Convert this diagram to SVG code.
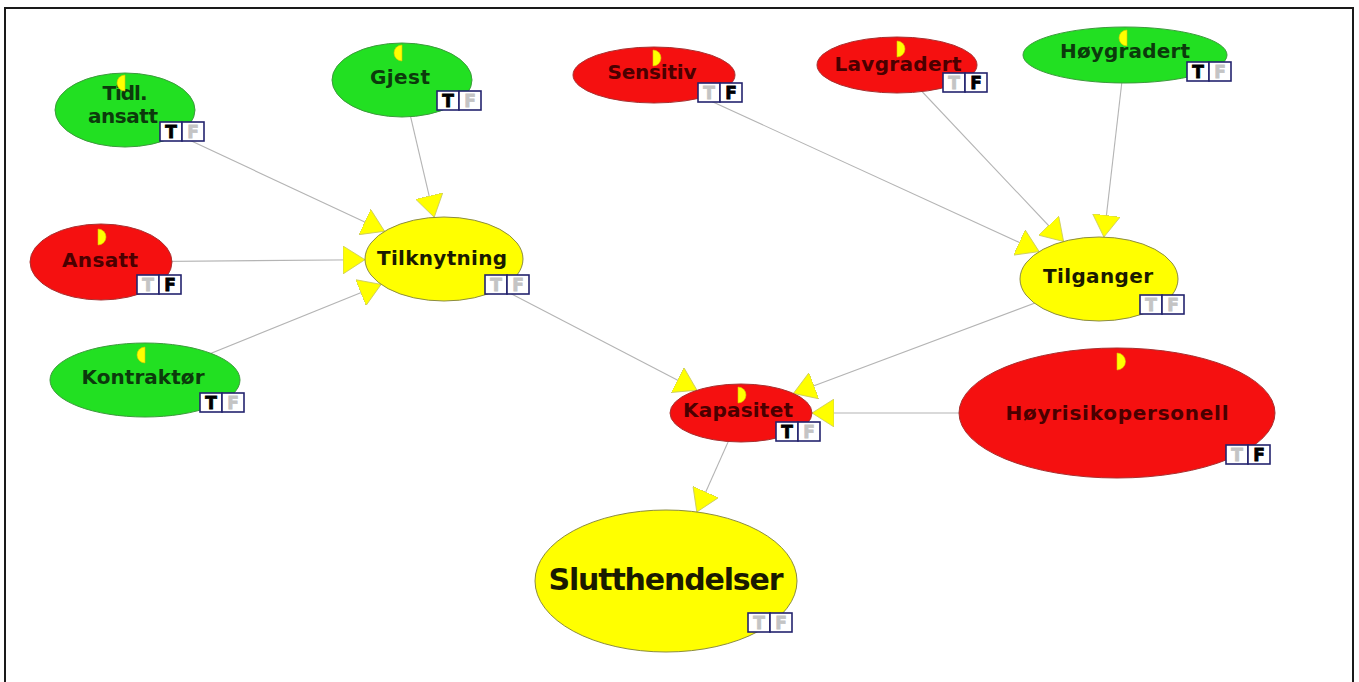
<svg xmlns="http://www.w3.org/2000/svg" xmlns:xlink="http://www.w3.org/1999/xlink" width="1359" height="682" viewBox="0 0 1359 682">
  <style>
    .lbl { font-family: "DejaVu Sans", "Liberation Sans", sans-serif; font-weight: bold; font-size: 20px; text-anchor: middle; }
    .big { font-size: 30px; }
    .green { fill: #22e022; stroke: #3c9a3c; stroke-width: 1; }
    .red { fill: #f51010; stroke: #a83030; stroke-width: 1; }
    .yellow { fill: #ffff00; stroke: #8c8c40; stroke-width: 1; }
    .tg { fill: #0c3a0c; }
    .tr { fill: #4a0000; }
    .ty { fill: #1a1a00; }
    .belief { fill: #ffff00; stroke: #d8c000; stroke-width: 0.6; }
    .edge { stroke: #b4b4b4; stroke-width: 1.1; fill: none; marker-end: url(#arrow); }
    .cell { fill: #ffffff; stroke: #24246e; stroke-width: 1.6; }
    .tf { font-family: "DejaVu Sans", "Liberation Sans", sans-serif; font-weight: 900; font-size: 17px; text-anchor: middle; }
    .on { fill: #000000; }
    .off { fill: #c4c4c4; }
  </style>
  <defs>
    <marker id="arrow" markerUnits="userSpaceOnUse" viewBox="0 0 22 28" refX="22" refY="14" markerWidth="22" markerHeight="28" orient="auto">
      <path d="M0,0 L22,14 L0,28 Z" fill="#ffff00" stroke="#c8c860" stroke-width="0.8"/>
    </marker>
    <!-- state boxes: T set, F set, none set -->
    <g id="tf-t">
      <rect class="cell" x="0" y="0" width="22" height="19"/>
      <rect class="cell" x="22" y="0" width="22" height="19"/>
      <text class="tf on" x="11" y="16" stroke="#000" stroke-width="0.8">T</text>
      <text class="tf off" x="33" y="16" stroke="#c4c4c4" stroke-width="0.8">F</text>
    </g>
    <g id="tf-f">
      <rect class="cell" x="0" y="0" width="22" height="19"/>
      <rect class="cell" x="22" y="0" width="22" height="19"/>
      <text class="tf off" x="11" y="16" stroke="#c4c4c4" stroke-width="0.8">T</text>
      <text class="tf on" x="33" y="16" stroke="#000" stroke-width="0.8">F</text>
    </g>
    <g id="tf-0">
      <rect class="cell" x="0" y="0" width="22" height="19"/>
      <rect class="cell" x="22" y="0" width="22" height="19"/>
      <text class="tf off" x="11" y="16" stroke="#c4c4c4" stroke-width="0.8">T</text>
      <text class="tf off" x="33" y="16" stroke="#c4c4c4" stroke-width="0.8">F</text>
    </g>
  </defs>

  <rect x="0" y="0" width="1359" height="682" fill="#ffffff"/>
  <rect x="5" y="8" width="1348" height="700" fill="none" stroke="#1a1a1a" stroke-width="2"/>

  <g id="connectors">
    <line class="edge" x1="125" y1="110" x2="384.6" y2="231.3"/>
    <line class="edge" x1="402" y1="80" x2="434.2" y2="217.3"/>
    <line class="edge" x1="101" y1="262" x2="365" y2="259.7"/>
    <line class="edge" x1="145" y1="380" x2="381.1" y2="284.4"/>
    <line class="edge" x1="444" y1="259" x2="697" y2="390.2"/>
    <line class="edge" x1="654" y1="75" x2="1039.2" y2="251.6"/>
    <line class="edge" x1="897" y1="65" x2="1063.6" y2="241.5"/>
    <line class="edge" x1="1125" y1="55" x2="1103.9" y2="237.1"/>
    <line class="edge" x1="1099" y1="279" x2="793.4" y2="393.4"/>
    <line class="edge" x1="1117" y1="413" x2="812" y2="413"/>
    <line class="edge" x1="741" y1="413" x2="696.8" y2="512"/>
  </g>

  <g id="node-tidl-ansatt">
    <ellipse class="green" cx="125" cy="110" rx="70" ry="37"/>
    <text class="lbl tg" x="125" y="100" textLength="45" lengthAdjust="spacing">Tidl.</text>
    <text class="lbl tg" x="123" y="123" textLength="70" lengthAdjust="spacing">ansatt</text>
    <path class="belief" d="M125,75 A8,8 0 0,0 125,91 Z"/>
    <use href="#tf-t" x="160" y="122"/>
  </g>

  <g id="node-gjest">
    <ellipse class="green" cx="402" cy="80" rx="70" ry="37"/>
    <text class="lbl tg" x="400" y="84" textLength="60" lengthAdjust="spacing">Gjest</text>
    <path class="belief" d="M402,45 A8,8 0 0,0 402,61 Z"/>
    <use href="#tf-t" x="437" y="91"/>
  </g>

  <g id="node-sensitiv">
    <ellipse class="red" cx="654" cy="75" rx="81" ry="28"/>
    <text class="lbl tr" x="652" y="79" textLength="89" lengthAdjust="spacing">Sensitiv</text>
    <path class="belief" d="M653,50 A8,8 0 0,1 653,66 Z"/>
    <use href="#tf-f" x="698" y="83"/>
  </g>

  <g id="node-lavgradert">
    <ellipse class="red" cx="897" cy="65" rx="80" ry="28"/>
    <text class="lbl tr" x="898" y="71" textLength="127" lengthAdjust="spacing">Lavgradert</text>
    <path class="belief" d="M897,41 A8,8 0 0,1 897,57 Z"/>
    <use href="#tf-f" x="943" y="73"/>
  </g>

  <g id="node-hoygradert">
    <ellipse class="green" cx="1125" cy="55" rx="102" ry="28"/>
    <text class="lbl tg" x="1125" y="58" textLength="130" lengthAdjust="spacing">Høygradert</text>
    <path class="belief" d="M1127,30 A8,8 0 0,0 1127,46 Z"/>
    <use href="#tf-t" x="1187" y="62"/>
  </g>

  <g id="node-ansatt">
    <ellipse class="red" cx="101" cy="262" rx="71" ry="38"/>
    <text class="lbl tr" x="100" y="267" textLength="76" lengthAdjust="spacing">Ansatt</text>
    <path class="belief" d="M98,229 A8,8 0 0,1 98,245 Z"/>
    <use href="#tf-f" x="137" y="275"/>
  </g>

  <g id="node-tilknytning">
    <ellipse class="yellow" cx="444" cy="259" rx="79" ry="42"/>
    <text class="lbl ty" x="442" y="265" textLength="130" lengthAdjust="spacing">Tilknytning</text>
    <use href="#tf-0" x="485" y="275"/>
  </g>

  <g id="node-kontraktor">
    <ellipse class="green" cx="145" cy="380" rx="95" ry="37"/>
    <text class="lbl tg" x="143" y="384" textLength="123" lengthAdjust="spacing">Kontraktør</text>
    <path class="belief" d="M145,347 A8,8 0 0,0 145,363 Z"/>
    <use href="#tf-t" x="200" y="393"/>
  </g>

  <g id="node-tilganger">
    <ellipse class="yellow" cx="1099" cy="279" rx="79" ry="42"/>
    <text class="lbl ty" x="1098" y="283" textLength="110" lengthAdjust="spacing">Tilganger</text>
    <use href="#tf-0" x="1140" y="295"/>
  </g>

  <g id="node-kapasitet">
    <ellipse class="red" cx="741" cy="413" rx="71" ry="29"/>
    <text class="lbl tr" x="738" y="417" textLength="110" lengthAdjust="spacing">Kapasitet</text>
    <path class="belief" d="M738,387 A8,8 0 0,1 738,403 Z"/>
    <use href="#tf-t" x="776" y="422"/>
  </g>

  <g id="node-hoyrisikopersonell">
    <ellipse class="red" cx="1117" cy="413" rx="158" ry="65"/>
    <text class="lbl tr" x="1117" y="420" textLength="223" lengthAdjust="spacing">Høyrisikopersonell</text>
    <path class="belief" d="M1117,353 A8,8 0 0,1 1117,370 Z"/>
    <use href="#tf-f" x="1226" y="445"/>
  </g>

  <g id="node-slutthendelser">
    <ellipse class="yellow" cx="666" cy="581" rx="131" ry="71"/>
    <text class="lbl big ty" x="666" y="590" textLength="235" lengthAdjust="spacing">Slutthendelser</text>
    <use href="#tf-0" x="748" y="613"/>
  </g>
</svg>
